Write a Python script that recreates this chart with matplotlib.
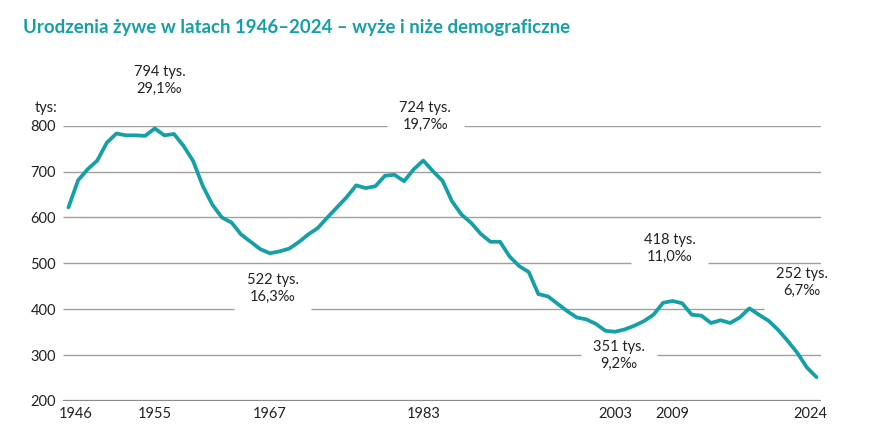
import matplotlib.pyplot as plt
import matplotlib.transforms as mtransforms

# Urodzenia żywe w Polsce (tys.)
years = list(range(1946, 2025))
births = [622, 681, 705, 724, 763, 783, 779, 779, 778, 794,
          779, 782, 756, 723, 669, 628, 600, 589, 563, 547,
          531, 522, 526, 532, 546, 563, 577, 600, 622, 644,
          670, 664, 668, 691, 693, 679, 705, 724, 701, 680,
          635, 606, 588, 564, 547, 547, 515, 494, 481, 433,
          428, 412, 396, 382, 378, 368, 353, 351, 356, 364,
          374, 388, 414, 418, 413, 388, 386, 370, 376, 370,
          382, 402, 388, 375, 355, 331, 305, 273, 252]

tick_years = [1946, 1955, 1967, 1983, 2003, 2009, 2024]
y_ticks = [200, 300, 400, 500, 600, 700, 800]

# etykiety wyżów i niżów: wartość, współczynnik, pozycja tekstu (rok, tys.)
notes_val = [794, 522, 724, 351, 418, 252]
notes_rate = ["29,1‰", "16,3‰", "19,7‰", "9,2‰", "11,0‰", "6,7‰"]
notes_pos = [(1955.5, 898), (1967.3, 445), (1983.2, 821), (2003.4, 299), (2008.7, 533), (2022.5, 459)]
# linia siatki przerwana pod etykietą (None = brak przerwy)
notes_gap = [None, 400, 800, 300, 500, 400]
GAP_HALF = 4.0  # lata

TEAL = "#14a0a6"
FONT = ["Lato", "DejaVu Sans"]
plt.rcParams["font.family"] = FONT

fig = plt.figure(figsize=(8.83, 4.46), dpi=100)
ax = fig.add_axes([63 / 883, 1 - 401 / 446, (820.7 - 63) / 883, (401 - 125.7) / 446])

x0, x1 = 1945.43, 2024.44
ax.set_xlim(x0, x1)
ax.set_ylim(200, 800)

for v in y_ticks:
    if v == 200:
        ax.axhline(v, color="#8a8a8a", lw=1.6, zorder=1)
        continue
    gaps = sorted((p[0] - GAP_HALF, p[0] + GAP_HALF)
                  for p, g in zip(notes_pos, notes_gap) if g == v)
    start = x0
    for a, b in gaps:
        if a > start:
            ax.hlines(v, start, a, color="#a0a0a0", lw=1.0, zorder=1)
        start = max(start, b)
    if start < x1:
        ax.hlines(v, start, x1, color="#a0a0a0", lw=1.0, zorder=1)

ax.plot(years, births, color=TEAL, lw=2.7, solid_joinstyle="round",
        solid_capstyle="round", zorder=5, clip_on=False)

for (tx, ty), val, rate in zip(notes_pos, notes_val, notes_rate):
    ax.text(tx, ty, f"{val} tys.\n{rate}", ha="center", va="center",
            fontsize=10.5, color="#222222", linespacing=1.25, zorder=3,
            clip_on=False)

for s in ax.spines.values():
    s.set_visible(False)

ax.set_yticks(y_ticks)
ax.set_xticks(tick_years)
ax.tick_params(axis="both", length=0, labelsize=10.5, colors="#222222")
ax.tick_params(axis="y", pad=5)
ax.tick_params(axis="x", pad=4)

labels = ax.get_xticklabels()
labels[0].set_transform(labels[0].get_transform() +
                        mtransforms.ScaledTranslation(0.07, 0, fig.dpi_scale_trans))
labels[-1].set_transform(labels[-1].get_transform() +
                         mtransforms.ScaledTranslation(-0.065, 0, fig.dpi_scale_trans))

fig.text(35 / 883, 1 - 108 / 446, "tys:", fontsize=10.5, color="#222222",
         ha="left", va="center")
fig.text(23 / 883, 1 - 28 / 446,
         "Urodzenia żywe w latach 1946–2024 – wyże i niże demograficzne",
         fontsize=13.4, fontweight="bold", color=TEAL, ha="left", va="center")

fig.savefig("out.png", dpi=100)
